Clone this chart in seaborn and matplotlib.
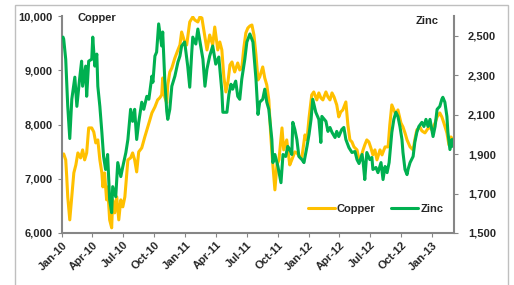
import matplotlib
matplotlib.use("Agg")
import matplotlib.pyplot as plt
import matplotlib.dates as mdates
import matplotlib.ticker as mticker
import pandas as pd
import seaborn as sns

# days counted from 1 Jan 2010
copper_day = [3, 5, 11, 14, 17, 23, 29, 35, 41, 47, 55, 61, 67, 73, 79, 88, 94, 100, 106, 112,
              118, 121, 126, 132, 135, 141, 147, 150, 156, 162, 168, 174, 180, 186, 192, 195, 203, 209, 215, 221,
              227, 236, 245, 254, 260, 266, 275, 283, 289, 295, 298, 304, 310, 313, 319, 325, 334, 343, 349, 354,
              363, 369, 378, 387, 393, 402, 408, 414, 423, 429, 437, 446, 452, 461, 467, 473, 479, 485, 491, 497,
              503, 511, 520, 526, 532, 538, 544, 550, 556, 562, 568, 574, 580, 585, 594, 600, 606, 612, 618, 624,
              630, 636, 642, 651, 656, 665, 674, 680, 689, 695, 704, 710, 719, 725, 731, 739, 745, 754, 760, 766,
              772, 781, 787, 793, 799, 805, 813, 819, 825, 831, 840, 846, 852, 858, 864, 873, 879, 885, 891, 896,
              902, 908, 914, 920, 926, 932, 941, 947, 956, 965, 970, 976, 982, 988, 994, 1003, 1009, 1015, 1021, 1030,
              1039, 1044, 1050, 1059, 1065, 1074, 1080, 1086, 1095, 1104, 1110, 1118, 1124, 1130, 1139, 1145, 1151, 1157]
copper = [7440, 7458, 7348, 7034, 6666, 6242, 6666, 7108, 7255, 7476, 7384, 7532, 7348, 7476, 7937, 7937, 7863, 7661, 7716, 7348,
          7108, 6850, 7108, 6611, 6850, 6242, 6095, 6611, 6371, 6666, 6242, 6611, 6482, 6666, 7108, 7348, 7384, 7476, 7348, 7126,
          7495, 7569, 7771, 7955, 8084, 8213, 8324, 8453, 8490, 8545, 8858, 8508, 8397, 8729, 8968, 9042, 9226, 9374, 9466, 9705,
          9521, 9466, 9890, 9982, 9926, 9890, 9982, 9963, 9613, 9374, 9650, 9466, 9797, 9374, 9521, 9374, 8876, 8600, 8784, 9097,
          9153, 8968, 9134, 9005, 9042, 9411, 9687, 9779, 9816, 9834, 9650, 9282, 8821, 8876, 9061, 8858, 8729, 8453, 7771, 7255,
          6795, 7255, 7348, 7937, 7532, 7716, 7255, 7348, 7495, 7476, 7403, 7403, 7808, 7716, 8121, 8545, 8600, 8453, 8582, 8490,
          8453, 8600, 8508, 8453, 8582, 8508, 8361, 8140, 8232, 8269, 8416, 7992, 7716, 7679, 7587, 7532, 7348, 7403, 7532, 7624,
          7716, 7679, 7569, 7440, 7532, 7348, 7532, 7440, 7587, 7587, 7992, 8361, 8269, 8176, 8269, 8029, 7955, 7845, 7716, 7587,
          7532, 7716, 7900, 7955, 7882, 7845, 7900, 7955, 7900, 8029, 8140, 8213, 8140, 8029, 7845, 7624, 7771, 7716]

zinc_day = [3, 5, 11, 17, 23, 29, 38, 44, 52, 58, 61, 70, 73, 79, 88, 91, 97, 103, 106, 112,
            118, 123, 129, 135, 141, 147, 150, 159, 165, 174, 180, 189, 195, 203, 209, 215, 221, 227, 236, 242,
            251, 257, 266, 269, 275, 280, 286, 295, 298, 304, 310, 313, 319, 325, 334, 343, 349, 354, 363, 372,
            378, 384, 387, 396, 402, 408, 417, 423, 429, 437, 446, 455, 464, 473, 476, 488, 494, 500, 505, 514,
            520, 526, 532, 541, 547, 556, 565, 574, 580, 585, 594, 600, 606, 612, 621, 624, 630, 639, 648, 654,
            662, 668, 674, 680, 683, 689, 695, 701, 710, 716, 725, 731, 737, 742, 751, 760, 766, 769, 781, 787,
            793, 799, 808, 813, 819, 828, 834, 840, 849, 858, 867, 873, 879, 888, 891, 896, 902, 911, 917, 920,
            929, 935, 944, 950, 956, 962, 968, 976, 982, 988, 994, 1000, 1006, 1009, 1015, 1021, 1024, 1030, 1039, 1044,
            1050, 1056, 1065, 1071, 1077, 1083, 1089, 1098, 1104, 1110, 1118, 1124, 1127, 1133, 1139, 1142, 1148, 1154, 1157]
zinc = [2493, 2483, 2381, 2142, 1979, 2178, 2290, 2142, 2280, 2371, 2244, 2346, 2193, 2371, 2381, 2493, 2346, 2407, 2244, 2142,
        2010, 1888, 1822, 1898, 1669, 1603, 1735, 1684, 1857, 1786, 1837, 1908, 1974, 2127, 2066, 2127, 1974, 2061, 2163, 2127,
        2193, 2178, 2295, 2264, 2397, 2417, 2560, 2448, 2519, 2280, 2117, 2076, 2127, 2244, 2295, 2366, 2397, 2448, 2468, 2346,
        2239, 2417, 2493, 2458, 2534, 2473, 2381, 2244, 2331, 2397, 2448, 2356, 2392, 2219, 2112, 2112, 2203, 2254, 2229, 2270,
        2193, 2178, 2280, 2381, 2468, 2509, 2468, 2280, 2101, 2163, 2178, 2229, 2163, 2127, 1974, 1857, 1898, 1837, 1755, 1898,
        1888, 1939, 1923, 1898, 2061, 2025, 1974, 1888, 1872, 1857, 1939, 2000, 2076, 2178, 2112, 2076, 1959, 2091, 2066, 2015,
        2035, 2010, 1984, 2015, 1989, 2025, 2035, 1974, 1933, 1908, 1913, 1872, 1852, 1898, 1862, 1771, 1908, 1872, 1883, 1822,
        1832, 1806, 1857, 1771, 1837, 1806, 1857, 2010, 2076, 2112, 2091, 2040, 1974, 1908, 1822, 1796, 1822, 1857, 1888, 1959,
        2010, 2040, 2061, 2040, 2076, 2040, 2076, 1989, 2040, 2127, 2142, 2178, 2188, 2163, 2091, 2010, 1923, 1974, 1939]

start = pd.Timestamp("2010-01-01")
df_cu = pd.DataFrame({"date": start + pd.to_timedelta(copper_day, unit="D"), "price": copper})
df_zn = pd.DataFrame({"date": start + pd.to_timedelta(zinc_day, unit="D"), "price": zinc})

sns.set_style("white")
plt.rcParams["font.family"] = ["Liberation Sans", "DejaVu Sans"]
plt.rcParams["font.weight"] = "bold"

GREY = "#868686"
fig = plt.figure(figsize=(5.14, 2.85), dpi=100)
ax = fig.add_axes([62 / 514, 52 / 285, 392 / 514, 217 / 285])
ax2 = ax.twinx()

sns.lineplot(data=df_cu, x="date", y="price", ax=ax, color="#FFC000", lw=2.2, legend=False)
sns.lineplot(data=df_zn, x="date", y="price", ax=ax2, color="#00B050", lw=2.2, legend=False)

ax.set_xlim(start, start + pd.Timedelta(days=1160))
ax.set_ylim(6000, 10000)
ax2.set_ylim(1500, 2600)
ax.yaxis.set_major_locator(mticker.MultipleLocator(1000))
ax2.set_yticks(range(1500, 2501, 200))
ax.yaxis.set_major_formatter(mticker.StrMethodFormatter("{x:,.0f}"))
ax2.yaxis.set_major_formatter(mticker.StrMethodFormatter("{x:,.0f}"))
ax.xaxis.set_major_locator(mdates.MonthLocator(bymonth=[1, 4, 7, 10]))
ax.xaxis.set_major_formatter(mdates.DateFormatter("%b-%y"))

for a in (ax, ax2):
    a.set_xlabel("")
    a.set_ylabel("")
    a.spines["top"].set_visible(False)
    for s in a.spines.values():
        s.set_color(GREY)
        s.set_linewidth(1.5)
ax.spines["right"].set_visible(False)
ax2.spines["left"].set_visible(False)
ax2.spines["bottom"].set_visible(False)

ax.tick_params(axis="y", left=True, direction="out", length=3, color=GREY, labelsize=8, pad=4)
ax.tick_params(axis="x", bottom=True, direction="out", length=3, color=GREY, labelsize=8, pad=2)
ax2.tick_params(axis="y", right=True, direction="out", length=3, color=GREY, labelsize=8, pad=7)
for lab in ax.get_xticklabels():
    lab.set_rotation(45)
    lab.set_ha("right")
    lab.set_rotation_mode("anchor")

fig.text(78 / 514, 1 - 18 / 285, "Copper", ha="left", va="center", fontsize=8, weight="bold")
fig.text(439 / 514, 1 - 21 / 285, "Zinc", ha="right", va="center", fontsize=8, weight="bold")

ax2.legend([ax.lines[0], ax2.lines[0]], ["Copper", "Zinc"], loc="center", bbox_to_anchor=(0.80, 0.11),
           ncol=2, frameon=False, fontsize=8, handlelength=2.4, handletextpad=0.2, columnspacing=1.4)

fig.patches.append(plt.Rectangle((15 / 514, -0.05), 493 / 514, 1.05 - 5 / 285, transform=fig.transFigure,
                                 fill=False, edgecolor="#BFBFBF", lw=1))

fig.savefig("out.png", dpi=100)
